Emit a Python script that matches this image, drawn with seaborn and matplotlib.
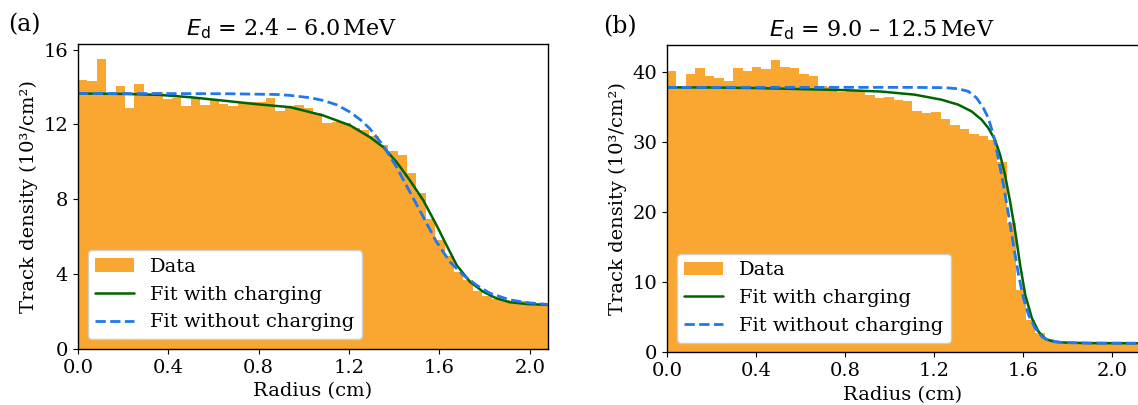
import pandas as pd
import seaborn as sns
import matplotlib.pyplot as plt
from matplotlib.patches import Patch
from matplotlib.lines import Line2D
from matplotlib.ticker import MultipleLocator

# panel (a): Ed = 2.4 - 6.0 MeV, 50 radial bins up to 2.08 cm
r_max_a = 2.08
density_a = [14.35, 14.30, 15.52, 13.64, 14.05, 12.87, 14.15, 13.64, 13.74, 13.37,
             13.42, 12.96, 13.42, 13.05, 13.33, 13.08, 12.96, 13.17, 13.18, 13.20,
             13.42, 12.73, 12.98, 13.06, 12.87, 12.60, 12.09, 12.12, 12.07, 11.82,
             11.72, 11.36, 10.88, 10.58, 10.36, 9.42, 8.32, 6.95, 5.81, 4.95,
             4.12, 3.66, 3.10, 2.84, 2.66, 2.64, 2.50, 2.57, 2.42, 2.36]
fit_a_r = [0.0, 0.2, 0.36, 0.5, 0.66, 0.8, 0.94, 1.085, 1.204, 1.292, 1.351, 1.41,
           1.469, 1.528, 1.587, 1.631, 1.676, 1.735, 1.793, 1.85, 1.91, 1.99, 2.08]
fit_a = [13.65, 13.63, 13.58, 13.45, 13.25, 13.07, 12.92, 12.48, 11.95, 11.32, 10.79,
         9.99, 9.01, 7.95, 6.61, 5.55, 4.48, 3.59, 3.06, 2.72, 2.50, 2.40, 2.36]
nofit_a_r = [0.0, 0.3, 0.66, 0.88, 0.94, 1.03, 1.085, 1.145, 1.204, 1.25, 1.292, 1.351,
             1.41, 1.469, 1.528, 1.587, 1.646, 1.705, 1.764, 1.823, 1.91, 1.99, 2.08]
nofit_a = [13.65, 13.65, 13.64, 13.60, 13.55, 13.42, 13.28, 13.05, 12.66, 12.25, 11.77,
           10.88, 9.72, 8.39, 7.06, 5.72, 4.66, 3.95, 3.41, 2.98, 2.63, 2.47, 2.38]

# panel (b): Ed = 9.0 - 12.5 MeV, 50 radial bins up to 2.12 cm
r_max_b = 2.12
density_b = [40.19, 37.80, 39.70, 40.60, 39.47, 39.14, 38.76, 40.60, 40.09, 40.70,
             40.43, 41.76, 40.70, 40.50, 39.66, 39.47, 38.00, 37.86, 37.09, 37.47,
             37.37, 36.76, 36.29, 36.37, 35.94, 35.90, 34.37, 34.14, 34.29, 33.33,
             32.47, 31.86, 31.19, 30.90, 30.23, 27.09, 18.43, 8.90, 4.61, 2.71,
             1.86, 1.61, 1.40, 1.38, 1.37, 1.36, 1.36, 1.35, 1.35, 1.35]
fit_b_r = [0.0, 0.2, 0.4, 0.6, 0.8, 0.962, 1.112, 1.233, 1.308, 1.368, 1.413, 1.443,
           1.473, 1.496, 1.518, 1.541, 1.564, 1.586, 1.609, 1.639, 1.669, 1.70, 1.74,
           1.80, 1.9, 2.13]
fit_b = [37.80, 37.78, 37.70, 37.55, 37.40, 37.20, 36.76, 36.04, 35.33, 34.37, 33.19,
         32.00, 30.33, 28.19, 25.33, 21.51, 17.23, 12.47, 8.19, 4.86, 2.94, 1.90, 1.50,
         1.37, 1.32, 1.30]
nofit_b_r = [0.0, 0.4, 0.8, 1.1, 1.25, 1.308, 1.353, 1.391, 1.421, 1.443, 1.466, 1.488,
             1.511, 1.534, 1.556, 1.579, 1.601, 1.624, 1.654, 1.684, 1.72, 1.78, 1.9, 2.13]
nofit_b = [37.80, 37.80, 37.80, 37.80, 37.75, 37.60, 37.23, 36.28, 34.85, 33.43, 31.04,
           27.71, 23.90, 19.61, 15.33, 11.04, 7.71, 5.33, 3.43, 2.23, 1.60, 1.40, 1.32,
           1.30]

titles = [r'$E_\mathrm{d}$ = 2.4 – 6.0$\,$MeV', r'$E_\mathrm{d}$ = 9.0 – 12.5$\,$MeV']
bar_color = '#f9a731'
green = '#006400'
blue = '#1f78ec'

sns.set_style('ticks', {'axes.edgecolor': 'black', 'xtick.color': 'black',
                        'ytick.color': 'black', 'text.color': 'black',
                        'axes.labelcolor': 'black'})
plt.rcParams['font.family'] = ['DejaVu Serif']
plt.rcParams['mathtext.fontset'] = 'dejavusans'

fig = plt.figure(figsize=(11.38, 4.05), dpi=100)
ax_a = fig.add_axes([0.0685, 0.1383, 0.413, 0.753])
ax_b = fig.add_axes([0.5861, 0.130, 0.4148, 0.759])

panels = [
    (ax_a, r_max_a, density_a, fit_a_r, fit_a, nofit_a_r, nofit_a, 4),
    (ax_b, r_max_b, density_b, fit_b_r, fit_b, nofit_b_r, nofit_b, 10),
]

for i, (ax, rmax, dens, fr, fv, nr, nv, ystep) in enumerate(panels):
    nbins = len(dens)
    width = rmax / nbins
    df = pd.DataFrame({'r': [width * (k + 0.5) for k in range(nbins)], 'density': dens})
    sns.histplot(data=df, x='r', weights='density', bins=nbins, binrange=(0, rmax),
                 color=bar_color, alpha=1, linewidth=0, ax=ax)
    sns.lineplot(x=fr, y=fv, color=green, linewidth=1.8, ax=ax)
    sns.lineplot(x=nr, y=nv, color=blue, linewidth=2.0, linestyle='--', ax=ax)

    ax.set_xlim(0, rmax)
    ax.xaxis.set_major_locator(MultipleLocator(0.4))
    ax.yaxis.set_major_locator(MultipleLocator(ystep))
    ax.xaxis.set_major_formatter('{x:.1f}')
    ax.tick_params(labelsize=14, length=3.5, width=0.8)
    ax.set_xlabel('Radius (cm)', fontsize=14)
    ax.set_ylabel('Track density (10³/cm²)', fontsize=14)
    ax.set_title(titles[i], fontsize=16, x=0.455)
    for sp in ax.spines.values():
        sp.set_linewidth(1.0)

    handles = [Patch(facecolor=bar_color, edgecolor='none', label='Data'),
               Line2D([], [], color=green, linewidth=1.8, label='Fit with charging'),
               Line2D([], [], color=blue, linewidth=2.0, linestyle='--',
                      label='Fit without charging')]
    ax.legend(handles=handles, loc='lower left', fontsize=14, framealpha=1)

fig.text(0.007, 0.968, '(a)', fontsize=17, va='top', ha='left')
fig.text(0.530, 0.963, '(b)', fontsize=17, va='top', ha='left')

fig.savefig('out.png', dpi=100)
